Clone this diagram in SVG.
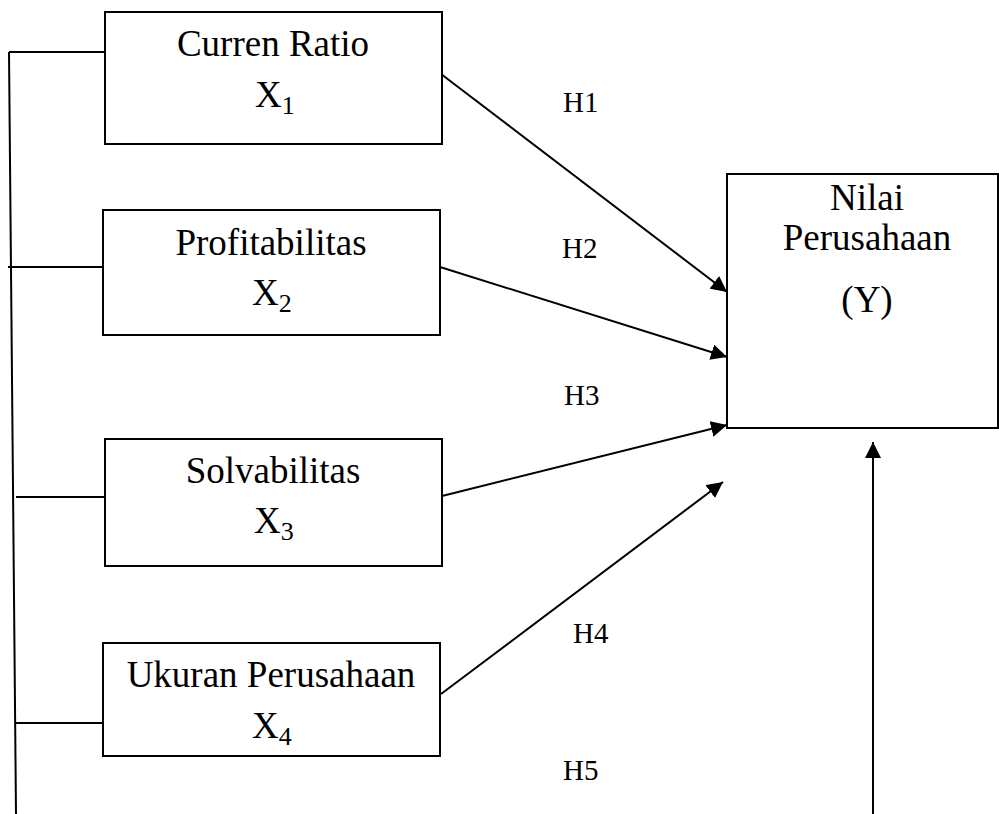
<svg xmlns="http://www.w3.org/2000/svg" width="999" height="814" viewBox="0 0 999 814">
<style>
.box{fill:#fff;stroke:#000;stroke-width:2}
.t{font-family:"Liberation Serif","Times New Roman",serif;font-size:37px;fill:#000;text-anchor:middle}
.x{font-family:"Liberation Serif","Times New Roman",serif;font-size:37px;fill:#000}
.sub{font-size:26px}
.h{font-family:"Liberation Serif","Times New Roman",serif;font-size:29px;fill:#000}
.ln{stroke:#000;stroke-width:2;fill:none}
.ar{stroke:#000;stroke-width:2;fill:none;marker-end:url(#ah)}
</style>
<defs>
<marker id="ah" viewBox="0 0 10 10" refX="10" refY="5" markerWidth="16" markerHeight="16" markerUnits="userSpaceOnUse" orient="auto">
<path d="M0,0 L10,5 L0,10 z" fill="#000"/>
</marker>
</defs>
<rect width="999" height="814" fill="#fff"/>
<g id="connectors">
<line class="ln" x1="9" y1="52" x2="16" y2="814"/>
<line class="ln" x1="9" y1="52" x2="105" y2="52"/>
<line class="ln" x1="8" y1="267" x2="103" y2="267"/>
<line class="ln" x1="16" y1="497" x2="105" y2="497"/>
<line class="ln" x1="16" y1="723" x2="103" y2="723"/>
<line class="ar" x1="441" y1="74" x2="727" y2="292"/>
<line class="ar" x1="440" y1="267" x2="727" y2="357"/>
<line class="ar" x1="442" y1="496" x2="727" y2="425"/>
<line class="ar" x1="441" y1="694" x2="723" y2="482"/>
<line class="ar" x1="873" y1="814" x2="873" y2="442"/>
</g>
<g id="labels">
<text class="h" x="563" y="112">H1</text>
<text class="h" x="562" y="258">H2</text>
<text class="h" x="564" y="405">H3</text>
<text class="h" x="573" y="643">H4</text>
<text class="h" x="563" y="780">H5</text>
</g>
<g id="x1">
<rect class="box" x="105" y="12" width="337" height="132"/>
<text class="t" x="273" y="56">Curren Ratio</text>
<text class="x" x="255" y="107">X<tspan class="sub" dy="7">1</tspan></text>
</g>
<g id="x2">
<rect class="box" x="103" y="210" width="337" height="125"/>
<text class="t" x="271" y="255">Profitabilitas</text>
<text class="x" x="252" y="305">X<tspan class="sub" dy="7">2</tspan></text>
</g>
<g id="x3">
<rect class="box" x="105" y="439" width="337" height="127"/>
<text class="t" x="273" y="483">Solvabilitas</text>
<text class="x" x="254" y="533">X<tspan class="sub" dy="7">3</tspan></text>
</g>
<g id="x4">
<rect class="box" x="103" y="643" width="337" height="113"/>
<text class="t" x="271" y="687">Ukuran Perusahaan</text>
<text class="x" x="252" y="738">X<tspan class="sub" dy="7">4</tspan></text>
</g>
<g id="y">
<rect class="box" x="727" y="174" width="271" height="254"/>
<text class="t" x="867" y="210">Nilai</text>
<text class="t" x="867" y="250">Perusahaan</text>
<text class="t" x="867" y="312">(Y)</text>
</g>
</svg>
